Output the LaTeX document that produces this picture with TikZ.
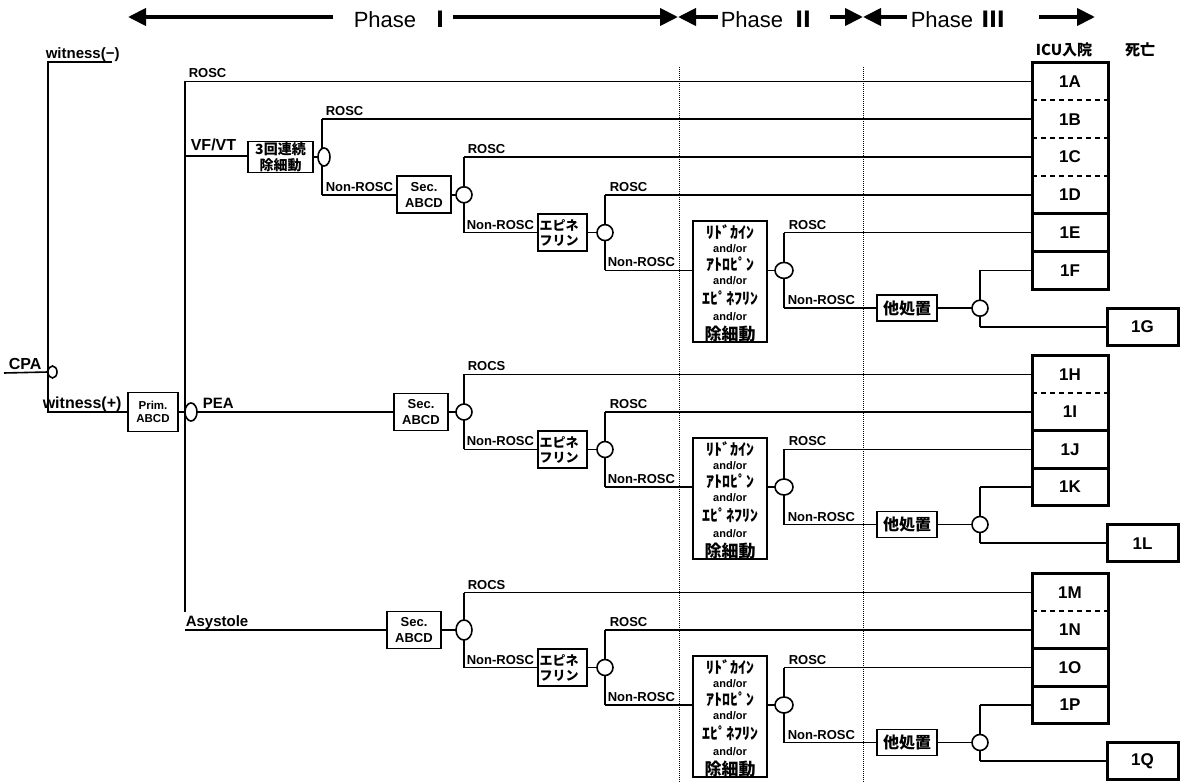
\documentclass[tikz,border=0pt]{standalone}
\usepackage{fontspec}
\setmainfont{Liberation Sans}
\newfontfamily\cjk{Noto Sans CJK JP}
\usetikzlibrary{arrows.meta,shapes.geometric,calc}

\newcommand{\drawgroup}[7]{% #1 prefix, #2 Y, #3 s, #4 sec x, #5 top label, #6 small box label, #7 oval1 height
  \pgfmathsetmacro\ya{#2-#3}%
  \pgfmathsetmacro\yb{#2+#3}%
  \pgfmathsetmacro\yc{#2+2*#3}%
  \pgfmathsetmacro\yd{#2+3*#3}%
  \pgfmathsetmacro\ye{#2+3.5*#3}%
  \pgfmathsetmacro\yt{#2+26}%
  \pgfmathsetmacro\ybig{#2+86.5}%
  \node[secbox] (#1sec) at (#4,#2) {Sec.\\ABCD};
  \coordinate (#1va) at (464,\ya);
  \coordinate (#1vb) at (464,\yb);
  \draw (#1va) -- (#1vb);
  \draw (#1va) -- (#1va -| #1rb.west);
  \node[oval,minimum height=#7pt] (#1o1) at (464,#2) {};
  \draw (#1sec) -- (#1o1);
  \node[epibox] (#1epi) at (562.5,\yb) {エピネ\\フリン};
  \draw (#1vb) -- (#1epi.west);
  \coordinate (#1wa) at (605,#2);
  \coordinate (#1wb) at (605,\yc);
  \draw (#1wa) -- (#1wb);
  \draw (#1wa) -- (#1wa -| #1rb.west);
  \node[oval] (#1o2) at (605,\yb) {};
  \draw (#1epi) -- (#1o2);
  \node[bigbox] (#1big) at (730,\ybig) {};
  \draw (#1wb) -- (#1wb -| #1big.west);
  \coordinate (#1xa) at (784,\yb);
  \coordinate (#1xb) at (784,\yd);
  \draw (#1xa) -- (#1xb);
  \draw (#1xa) -- (#1xa -| #1rb.west);
  \node[oval,minimum width=18pt] (#1o3) at (784,\yc) {};
  \draw (#1o3 -| #1big.east) -- (#1o3);
  \node[tabox] (#1ta) at (907,\yd) {他処置};
  \draw (#1xb) -- (#1ta);
  \coordinate (#1za) at (980,\yc);
  \coordinate (#1zb) at (980,\ye);
  \draw (#1za) -- (#1zb);
  \draw (#1za) -- (#1za -| #1rb.west);
  \node[oval] (#1o4) at (980,\yd) {};
  \draw (#1ta) -- (#1o4);
  \node[sbox] (#1sb) at (1142.5,\ye) {#6};
  \draw (#1zb) -- (#1sb);
  \node[lab] (#1l1) at (467,{\ya-3.5}) {#5};
  \node[lab] (#1l2) at (466,{\yb-3.5}) {Non-ROSC};
  \node[lab] (#1l3) at (609,{#2-3.5}) {ROSC};
  \node[lab] (#1l4) at (607,{\yc-3.5}) {Non-ROSC};
  \node[lab] (#1l5) at (788,{\yb-3.5}) {ROSC};
  \node[lab] (#1l6) at (787,{\yd-3.5}) {Non-ROSC};
  \node[kana] (#1k1) at (730,{\yt+11}) {ﾘﾄﾞｶｲﾝ};
  \node[andor] (#1k2) at (730,{\yt+27.5}) {and/or};
  \node[kana] (#1k3) at (730,{\yt+43}) {ｱﾄﾛﾋﾟﾝ};
  \node[andor] (#1k4) at (730,{\yt+60}) {and/or};
  \node[kana] (#1k5) at (730,{\yt+77}) {ｴﾋﾟﾈﾌﾘﾝ};
  \node[andor] (#1k6) at (730,{\yt+96}) {and/or};
  \node[kana,font=\cjk\bfseries\fontsize{17}{17}\selectfont] (#1k7) at (730,{\yt+113}) {除細動};
}

\begin{document}
\begin{tikzpicture}[x=1pt,y=-1pt,line width=1.6pt,
  lab/.style={anchor=base west,inner sep=0pt,font=\bfseries\fontsize{13}{15}\selectfont},
  biglab/.style={anchor=base west,inner sep=0pt,font=\bfseries\fontsize{16}{16}\selectfont},
  bx/.style={draw,line width=1.6pt,inner sep=0pt,outer sep=0pt,align=center},
  secbox/.style={bx,minimum width=54pt,minimum height=37pt,font=\bfseries\fontsize{13}{16}\selectfont},
  epibox/.style={bx,minimum width=49pt,minimum height=37pt,text width=46pt,align=left,font=\cjk\bfseries\fontsize{13}{15}\selectfont},
  bigbox/.style={bx,minimum width=74pt,minimum height=121pt},
  tabox/.style={bx,minimum width=60pt,minimum height=26pt,font=\cjk\bfseries\fontsize{16}{16}\selectfont},
  sbox/.style={draw,line width=3pt,inner sep=0pt,outer sep=0pt,minimum width=71pt,minimum height=37pt,font=\bfseries\fontsize{17}{17}\selectfont},
  rbox/.style={draw,line width=3pt,inner sep=0pt,outer sep=0pt,minimum width=76pt},
  rlab/.style={inner sep=0pt,font=\bfseries\fontsize{17}{17}\selectfont},
  oval/.style={draw,ellipse,fill=white,line width=1.6pt,inner sep=0pt,outer sep=0pt,minimum width=16pt,minimum height=16pt},
  kana/.style={inner sep=0pt,font=\cjk\bfseries\fontsize{16}{16}\selectfont},
  andor/.style={inner sep=0pt,font=\bfseries\fontsize{11}{11}\selectfont},
  phase/.style={anchor=base west,inner sep=0pt,font=\fontsize{22}{22}\selectfont},
  parrow/.style={line width=4pt,-{Triangle[length=18pt,width=17pt]}},
  dotl/.style={line width=1pt,dash pattern=on 1pt off 1pt},
  dsep/.style={line width=1.6pt,dash pattern=on 5pt off 4pt},
  ssep/.style={line width=2.6pt},
]
\useasboundingbox (0,0) rectangle (1181,783);

% ---------- header ----------
\node[phase] (ph1) at (353,28) {Phase\hspace{13pt}{\cjk\bfseries Ⅰ}};
\node[phase] (ph2) at (720,28) {Phase\hspace{9pt}{\cjk\bfseries Ⅱ}};
\node[phase] (ph3) at (910,28) {Phase\hspace{9pt}{\cjk\bfseries Ⅲ}};
\coordinate (a1) at (128,17);  \coordinate (a1s) at (333,17);
\coordinate (a2) at (678,17);  \coordinate (a2s) at (453,17);
\coordinate (b1s) at (718,17);
\coordinate (a3) at (863,17);  \coordinate (b2s) at (830,17);
\coordinate (c1s) at (907,17);
\coordinate (a4) at (1095,17); \coordinate (c2s) at (1039,17);
\draw[parrow] (a1s) -- (a1);
\draw[parrow] (a2s) -- (a2);
\draw[parrow] (b1s) -- (a2);
\draw[parrow] (b2s) -- (a3);
\draw[parrow] (c1s) -- (a3);
\draw[parrow] (c2s) -- (a4);
\node[font=\cjk\bfseries\fontsize{15}{15}\selectfont,inner sep=0pt] (icu) at (1064,50) {ICU入院};
\node[font=\cjk\bfseries\fontsize{15}{15}\selectfont,inner sep=0pt] (death) at (1140,50) {死亡};

% ---------- phase separators ----------
\draw[dotl] (679,67) -- (679,783);
\draw[dotl] (863,67) -- (863,783);

% ---------- right boxes ----------
\node[rbox,minimum height=226.8pt] (g1rb) at (1070,175.9) {};
\draw[dsep] ($(g1rb.north west)+(0,37.8)$) -- ($(g1rb.north east)+(0,37.8)$);
\draw[dsep] ($(g1rb.north west)+(0,75.6)$) -- ($(g1rb.north east)+(0,75.6)$);
\draw[dsep] ($(g1rb.north west)+(0,113.4)$) -- ($(g1rb.north east)+(0,113.4)$);
\draw[ssep] ($(g1rb.north west)+(0,151.2)$) -- ($(g1rb.north east)+(0,151.2)$);
\draw[ssep] ($(g1rb.north west)+(0,189)$) -- ($(g1rb.north east)+(0,189)$);
\node[rlab] (r1A) at (1070,81.4) {1A};
\node[rlab] (r1B) at (1070,119.2) {1B};
\node[rlab] (r1C) at (1070,157) {1C};
\node[rlab] (r1D) at (1070,194.8) {1D};
\node[rlab] (r1E) at (1070,232.6) {1E};
\node[rlab] (r1F) at (1070,270.4) {1F};

\node[rbox,minimum height=150pt] (g2rb) at (1070,430.75) {};
\draw[dsep] ($(g2rb.north west)+(0,37.5)$) -- ($(g2rb.north east)+(0,37.5)$);
\draw[ssep] ($(g2rb.north west)+(0,75)$) -- ($(g2rb.north east)+(0,75)$);
\draw[ssep] ($(g2rb.north west)+(0,112.5)$) -- ($(g2rb.north east)+(0,112.5)$);
\node[rlab] (r1H) at (1070,374.5) {1H};
\node[rlab] (r1I) at (1070,412) {1I};
\node[rlab] (r1J) at (1070,449.5) {1J};
\node[rlab] (r1K) at (1070,487) {1K};

\node[rbox,minimum height=150pt] (g3rb) at (1070,648.75) {};
\draw[dsep] ($(g3rb.north west)+(0,37.5)$) -- ($(g3rb.north east)+(0,37.5)$);
\draw[ssep] ($(g3rb.north west)+(0,75)$) -- ($(g3rb.north east)+(0,75)$);
\draw[ssep] ($(g3rb.north west)+(0,112.5)$) -- ($(g3rb.north east)+(0,112.5)$);
\node[rlab] (r1M) at (1070,592.5) {1M};
\node[rlab] (r1N) at (1070,630) {1N};
\node[rlab] (r1O) at (1070,667.5) {1O};
\node[rlab] (r1P) at (1070,705) {1P};

% ---------- groups ----------
\drawgroup{g1}{194.8}{37.8}{424}{ROSC}{1G}{16}
\drawgroup{g2}{412}{37.5}{421}{ROCS}{1L}{16}
\drawgroup{g3}{630}{37.5}{414}{ROCS}{1Q}{20}

% ---------- left part ----------
\coordinate (wmR) at (112,62);
\coordinate (wmL) at (48,62);
\coordinate (wpL) at (48,412);
\node[biglab,font=\bfseries\fontsize{15}{15}\selectfont] (wmlab) at (45,58.5) {witness(−)};
\node[biglab] (wplab) at (42,408.5) {witness(+)};
\node[bx,minimum width=50pt,minimum height=39pt,font=\bfseries\fontsize{11.5}{13}\selectfont] (prim) at (153,412) {Prim.\\ABCD};
\draw (wmR) -- (wmL) -- (wpL) -- (prim.west);
\coordinate (cpaL) at (4,373);
\node[biglab] (cpalab) at (8,369.5) {CPA};
\node[oval,minimum width=9pt,minimum height=12pt] (cpao) at (52.5,372) {};
\draw (cpaL) -- (cpao.west);

\coordinate (trT) at (185,81.4);
\coordinate (trB) at (185,612);
\draw[line width=1.9pt] (trT) -- (trB);
\draw (trT) -- (trT -| g1rb.west);
\node[lab] (rosc0) at (188,77.9) {ROSC};
\node[oval,minimum width=12pt,minimum height=18pt] (po) at (191,412) {};
\draw (prim.east) -- (po.west);

% VF/VT branch
\coordinate (vfL) at (185,156);
\node[biglab] (vflab) at (190,150.5) {VF/VT};
\node[bx,minimum width=65pt,minimum height=31pt,font=\cjk\bfseries\fontsize{14}{15.5}\selectfont] (r3) at (280.5,157) {3回連続\\除細動};
\draw (vfL) -- (vfL -| r3.west);
\coordinate (r3a) at (322,119.2);
\coordinate (r3b) at (322,194.8);
\draw (r3a) -- (r3b);
\draw (r3a) -- (r3a -| g1rb.west);
\draw (r3b) -- (g1sec.west |- r3b);
\node[oval,minimum width=12pt,minimum height=18pt] (r3o) at (324,157) {};
\draw (r3.east) -- (r3o.west);
\node[lab] (rosc1) at (325,115.7) {ROSC};
\node[lab] (nrosc1) at (325,191.3) {Non-ROSC};

% PEA and Asystole
\node[biglab,font=\bfseries\fontsize{15}{15}\selectfont] (pealab) at (202,408.5) {PEA};
\coordinate (asyL) at (185,630);
\node[biglab,font=\bfseries\fontsize{15}{15}\selectfont] (asylab) at (185,626.5) {Asystole};
\draw (po.east) -- (g2sec.west);
\draw (asyL) -- (g3sec.west);
\end{tikzpicture}
\end{document}
